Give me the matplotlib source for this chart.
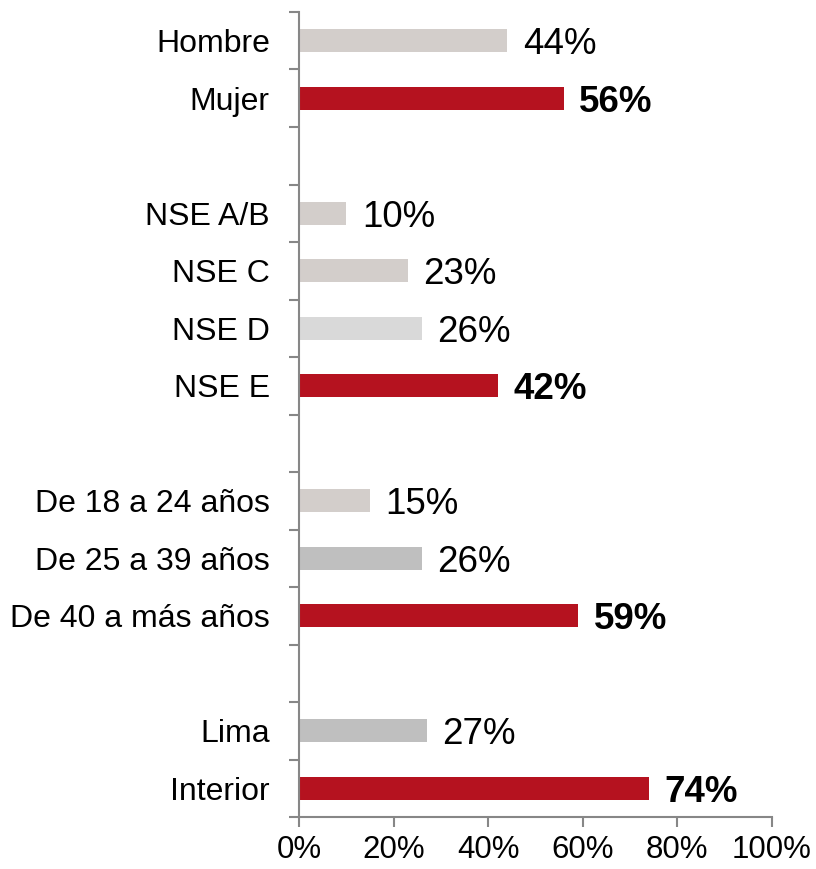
import numpy as np
import matplotlib.pyplot as plt
from matplotlib.ticker import FuncFormatter

plt.rcParams['font.family'] = ['Liberation Sans', 'DejaVu Sans']

# Categories top to bottom ('' = blank separator row)
categories = ['Hombre', 'Mujer', '',
              'NSE A/B', 'NSE C', 'NSE D', 'NSE E', '',
              'De 18 a 24 años', 'De 25 a 39 años', 'De 40 a más años', '',
              'Lima', 'Interior']
values = [44, 56, None,
          10, 23, 26, 42, None,
          15, 26, 59, None,
          27, 74]
highlight = [False, True, False,
             False, False, False, True, False,
             False, False, True, False,
             False, True]
bar_colors = ['#D3CECB', '#B5121F', None,
              '#D3CECB', '#D3CECB', '#D9D9D9', '#B5121F', None,
              '#D3CECB', '#BFBFBF', '#B5121F', None,
              '#BFBFBF', '#B5121F']

fig = plt.figure(figsize=(8.16, 8.69), dpi=100)
ax = fig.add_axes([0.3664, 0.0598, 0.5795, 0.9264])

n = len(categories)
ypos = np.arange(n)
for y, v, c, h in zip(ypos, values, bar_colors, highlight):
    if v is None:
        continue
    ax.barh(y, v, height=0.4, color=c)
    ax.text(v + 3.3, y, f"{v}%", va='center_baseline', ha='left', fontsize=26.5,
            fontweight='bold' if h else 'normal', color='black')

ax.set_xlim(0, 100)
ax.set_ylim(n - 0.5, -0.5)

# boundary ticks (major) and category labels (minor)
ax.set_yticks(np.arange(n + 1) - 0.5)
ax.set_yticklabels([])
ax.set_yticks(ypos, minor=True)
ax.set_yticklabels(categories, minor=True, fontsize=23)
ax.tick_params(axis='y', which='major', length=7, width=1.5, color='#878787')
ax.tick_params(axis='y', which='minor', length=0, pad=21)

ax.set_xticks(np.arange(0, 101, 20))
ax.xaxis.set_major_formatter(FuncFormatter(lambda x, p: f"{int(x)}%"))
ax.tick_params(axis='x', length=7, width=1.5, color='#878787', labelsize=22.5, pad=6)

for s in ['top', 'right']:
    ax.spines[s].set_visible(False)
for s in ['left', 'bottom']:
    ax.spines[s].set_color('#878787')
    ax.spines[s].set_linewidth(1.5)

plt.savefig('out.png', dpi=100)
